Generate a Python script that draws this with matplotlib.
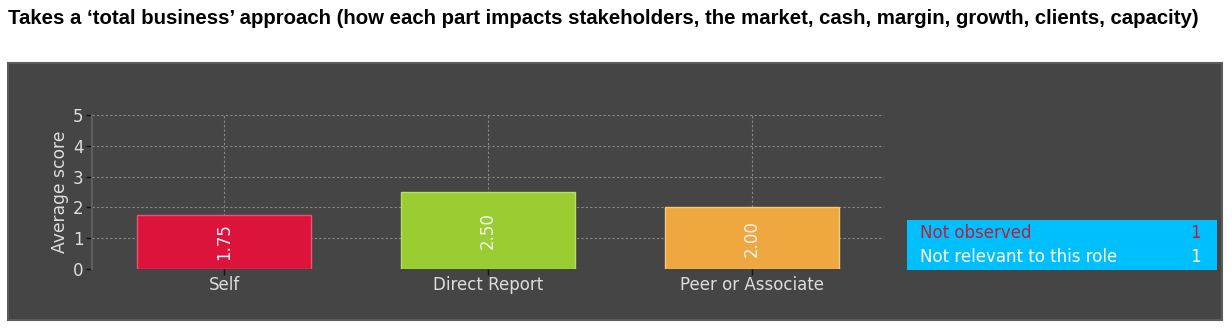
import matplotlib
matplotlib.use("Agg")
import matplotlib.pyplot as plt
from matplotlib.patches import Rectangle

title = "Takes a \u2018total business\u2019 approach (how each part impacts stakeholders, the market, cash, margin, growth, clients, capacity)"
categories = ["Self", "Direct Report", "Peer or Associate"]
scores = [1.75, 2.50, 2.00]
bar_colors = ["#DC143C", "#9ACD32", "#EEA83F"]
edge_colors = ["#F0506A", "#B8E060", "#F8C878"]
yticks = [0, 1, 2, 3, 4, 5]
extra_labels = ["Not observed", "Not relevant to this role"]
extra_counts = [1, 1]
extra_text_colors = ["#B8203A", "#FFFFFF"]

W, H = 1232, 330
fig = plt.figure(figsize=(W / 100, H / 100), dpi=100)
fig.patch.set_facecolor("white")

# Title
fig.text(8 / W, 1 - 18 / H, title, ha="left", va="center",
         fontsize=14.7, fontweight="bold", family="Liberation Sans", color="black")

# Dark chart panel
panel = Rectangle((8 / W, 10 / H), 1214 / W, 257 / H, transform=fig.transFigure,
                  facecolor="#454545", edgecolor="#5c5c5c", linewidth=1.5, zorder=-2)
fig.patches.append(panel)

ax = fig.add_axes([92 / W, 61 / H, 792 / W, 154 / H])
ax.set_zorder(2)
ax.set_facecolor("none")
x = list(range(len(categories)))
bars = ax.bar(x, scores, width=0.66, color=bar_colors, edgecolor=edge_colors,
              linewidth=1, zorder=3)
for xi, v in zip(x, scores):
    ax.text(xi, v / 2, f"{v:.2f}", rotation=90, ha="center", va="center",
            color="#F2F2F2", fontsize=12, zorder=4)

ax.set_xlim(-0.5, len(categories) - 0.5)
ax.set_ylim(0, 5)
ax.set_yticks(yticks)
ax.set_xticks(x)
ax.set_xticklabels(categories)
ax.set_ylabel("Average score", color="#DDDDDD", fontsize=12.3, labelpad=3)
ax.tick_params(axis="both", colors="#111111", labelcolor="#DDDDDD",
               labelsize=12, length=4, width=1)
ax.tick_params(axis="x", pad=1)
ax.tick_params(axis="y", pad=2)
ax.grid(True, color="#8a8a8a", linestyle=(0, (2, 2)), linewidth=0.8, zorder=1)
for side in ["top", "right", "bottom"]:
    ax.spines[side].set_visible(False)
ax.spines["left"].set_color("#5e5e5e")
ax.spines["left"].set_linewidth(1.5)

# Response summary box
box = Rectangle((907 / W, 60 / H), 310 / W, 50 / H, transform=fig.transFigure,
                facecolor="#00BFFF", edgecolor="none", zorder=-1)
fig.patches.append(box)
for i, (lab, cnt, col) in enumerate(zip(extra_labels, extra_counts, extra_text_colors)):
    yy = 1 - (233 + i * 24) / H
    fig.text(920 / W, yy, lab, ha="left", va="center", color=col, fontsize=12)
    fig.text(1201 / W, yy, str(cnt), ha="right", va="center", color=col, fontsize=12)

fig.savefig("out.png", dpi=100, facecolor="white")
